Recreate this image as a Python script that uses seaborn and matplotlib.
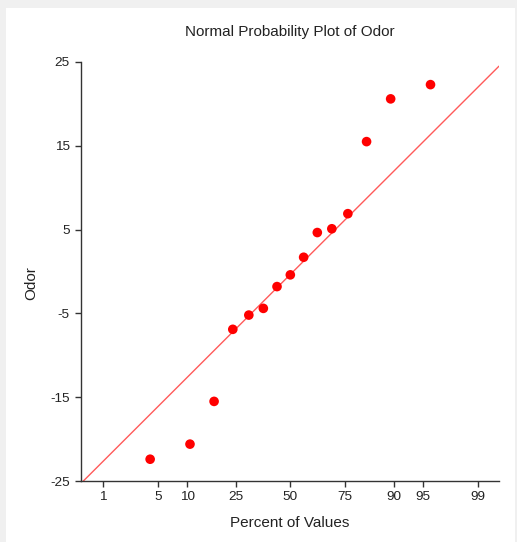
import numpy as np
import pandas as pd
import matplotlib
matplotlib.use("Agg")
import matplotlib.pyplot as plt
from matplotlib.patches import Rectangle
from statistics import NormalDist
import seaborn as sns

# ---- data ----
percent_values = [4.10, 10.66, 17.21, 23.77, 30.33, 36.89, 43.44, 50.00,
                  56.56, 63.11, 69.67, 76.23, 82.79, 89.34, 95.90]
odor = [-22.4, -20.6, -15.5, -6.9, -5.2, -4.4, -1.8, -0.4,
        1.7, 4.65, 5.1, 6.9, 15.5, 20.6, 22.3]
x_tick_percents = [1, 5, 10, 25, 50, 75, 90, 95, 99]
y_ticks = [-25, -15, -5, 5, 15, 25]
line_intercept = -0.35
line_slope = 9.6
title = "Normal Probability Plot of Odor"
xlabel = "Percent of Values"
ylabel = "Odor"

nd = NormalDist()
df = pd.DataFrame({"z": [nd.inv_cdf(p / 100.0) for p in percent_values],
                   "odor": odor})

sns.set_style("ticks")
plt.rcParams["font.family"] = ["Liberation Sans", "DejaVu Sans"]
plt.rcParams["axes.unicode_minus"] = False

W, H = 517, 542
fig = plt.figure(figsize=(W / 100, H / 100), dpi=100, facecolor="#f0f0f0")
fig.patches.append(Rectangle((6 / W, 0), (515 - 6) / W, (H - 8) / H,
                             transform=fig.transFigure, facecolor="white",
                             edgecolor="none", zorder=-10))

ax = fig.add_axes([81 / W, 1 - 481 / H, (499 - 81) / W, (481 - 62) / H])
ax.set_zorder(5)
ax.patch.set_alpha(0)

xmin, xmax = -2.597, 2.589
ax.set_xlim(xmin, xmax)
ax.set_ylim(-25, 25)

xl = np.array([xmin, xmax])
line_df = pd.DataFrame({"z": xl, "y": line_intercept + line_slope * xl})
sns.lineplot(data=line_df, x="z", y="y", ax=ax, color="#ff5a5a", lw=1.0)
sns.scatterplot(data=df, x="z", y="odor", ax=ax, color="#ff0000",
                s=48, edgecolor="none", zorder=5, clip_on=False)
ax.set_xlim(xmin, xmax)
ax.set_ylim(-25, 25)

ax.set_xticks([nd.inv_cdf(p / 100.0) for p in x_tick_percents])
ax.set_xticklabels([str(p) for p in x_tick_percents])
ax.set_yticks(y_ticks)
ax.set_yticklabels([str(v) for v in y_ticks])

for s in ["top", "right"]:
    ax.spines[s].set_visible(False)
for s in ["left", "bottom"]:
    ax.spines[s].set_color("#333333")
    ax.spines[s].set_linewidth(1.0)
ax.tick_params(axis="both", direction="out", length=4, width=1,
               color="#333333", labelsize=9.7, labelcolor="#222222")
ax.tick_params(axis="x", pad=3)
ax.tick_params(axis="y", pad=4)

ax.set_xlabel("")
ax.set_ylabel("")
fig.text(290 / W, 1 - 32 / H, title, ha="center", va="center",
         fontsize=11, color="#222222")
fig.text(290 / W, 1 - 523 / H, xlabel, ha="center", va="center",
         fontsize=11, color="#222222")
fig.text(31 / W, 1 - 283 / H, ylabel, ha="center", va="center",
         rotation=90, fontsize=11, color="#222222")

fig.savefig("out.png", dpi=100, facecolor=fig.get_facecolor())
